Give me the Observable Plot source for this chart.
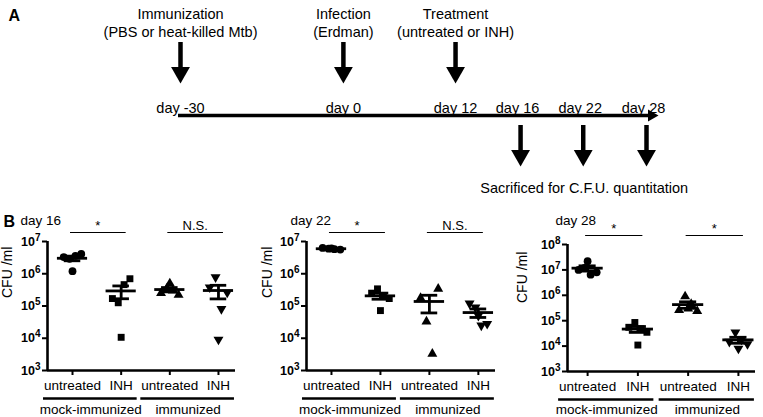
<!DOCTYPE html>
<html>
<head>
<meta charset="utf-8">
<script src="https://cdn.jsdelivr.net/npm/d3@7"></script>
<script src="https://cdn.jsdelivr.net/npm/@observablehq/plot@0.6"></script>
<style>
  body { margin: 0; background: #fff; }
  #fig { position: relative; width: 763px; height: 417px; overflow: hidden; background: #fff; }
  #fig svg { position: absolute; }
</style>
</head>
<body>
<div id="fig"></div>
<script>
// ---------- Panel A: timeline (schematic, not to scale) ----------
const eventDays = [-30, 0, 12];
const eventTitles = ["Immunization", "Infection", "Treatment"];
const eventDetails = ["(PBS or heat-killed Mtb)", "(Erdman)", "(untreated or INH)"];
const timelineDays = [-30, 0, 12, 16, 22, 28];
const timelineSlots = [0, 2.6, 4.39, 5.38, 6.38, 7.39];   // schematic spacing of the days on the drawn timeline
const sacrificeDays = [16, 22, 28];
const sacrificeCaption = "Sacrificed for C.F.U. quantitation";

// ---------- Panel B: CFU /ml ----------
const categories = ["untreated", "INH", "untreated", "INH"];
const groupLabels = ["mock-immunized", "immunized"];
const panelTitles = ["day 16", "day 22", "day 28"];
const sigLabels16 = ["*", "N.S."];
const sigLabels22 = ["*", "N.S."];
const sigLabels28 = ["*", "*"];
const yExponents16 = [3, 4, 5, 6, 7];
const yExponents22 = [3, 4, 5, 6, 7];
const yExponents28 = [3, 4, 5, 6, 7, 8];

const day16MockUntreated = [3.3e6, 4.1e6, 2.9e6, 3.6e6, 1.2e6];
const day16MockINH       = [1.7e5, 7.0e5, 1.26e5, 4.6e5, 1.07e4];
const day16ImmUntreated  = [2.5e5, 2.2e5, 3.5e5, 3.0e5, 5.0e5];
const day16ImmINH        = [3.8e5, 2.6e5, 7.8e5, 8.1e4, 9.1e3];

const day22MockUntreated = [6.3e6, 5.6e6, 6.0e6, 5.8e6, 6.1e6];
const day22MockINH       = [2.5e5, 1.7e5, 3.4e5, 2.0e5, 7.2e4];
const day22ImmUntreated  = [1.76e5, 3.4e5, 3.3e4, 3.3e3];
const day22ImmINH        = [1.2e5, 2.8e4, 9.0e4, 2.5e4, 5.0e4];

const day28MockUntreated = [1.0e7, 8.0e6, 1.2e7, 6.5e6, 2.2e7];
const day28MockINH       = [5.5e4, 3.5e4, 8.5e4, 4.8e4, 1.1e4];
const day28ImmUntreated  = [2.6e5, 2.4e5, 9.0e5, 4.5e5, 3.0e5];
const day28ImmINH        = [1.5e4, 1.2e4, 3.5e4, 1.8e4, 8.0e3];

// ---------- styling ----------
const FONT = '"Liberation Sans", Arial, Helvetica, sans-serif';
const baseStyle = {fontFamily: FONT, background: "transparent", color: "black", overflow: "visible"};
const fig = document.getElementById("fig");
function place(svg, left, top) {
  svg.style.left = left + "px";
  svg.style.top = top + "px";
  fig.appendChild(svg);
}

// ---------- Panel A ----------
const slotOf = day => timelineSlots[timelineDays.indexOf(day)];
const events = eventDays.map((d, i) => ({slot: slotOf(d), title: eventTitles[i], detail: eventDetails[i]}));
const dayMarks = timelineDays.map(d => ({slot: slotOf(d), label: "day " + d}));
const sacrifices = sacrificeDays.map(d => ({slot: slotOf(d)}));
const lastSlot = timelineSlots[timelineSlots.length - 1];
const panelA = Plot.plot({
  width: 763, height: 200,
  marginTop: 0, marginRight: 0, marginBottom: 0, marginLeft: 0,
  style: baseStyle,
  x: {type: "linear", domain: [0, lastSlot], range: [180, 643], axis: null},
  marks: [
    Plot.text(["A"], {frameAnchor: "top-left", dx: 8, dy: 9, fontSize: 16, fontWeight: "bold", text: d => d}),
    Plot.text(events, {x: "slot", text: "title", frameAnchor: "top", dy: 8, fontSize: 14.5}),
    Plot.text(events, {x: "slot", text: "detail", frameAnchor: "top", dy: 26, fontSize: 14.5}),
    Plot.ruleX(events, {x: "slot", insetTop: 42, insetBottom: 132, strokeWidth: 4.5}),
    Plot.dot(events, {x: "slot", frameAnchor: "top", dy: 72, symbol: "triangle", rotate: 180, r: 7, fill: "black"}),
    Plot.text(dayMarks, {x: "slot", text: "label", frameAnchor: "top", dy: 102, fontSize: 14.5}),
    Plot.ruleY([{start: 0, end: lastSlot}], {x1: "start", x2: "end", y: null, dy: 15, insetLeft: -2, insetRight: -6, strokeWidth: 3.5}),
    Plot.dot([lastSlot], {x: d => d, frameAnchor: "top", dy: 115, dx: 8, symbol: "triangle", rotate: 90, r: 4.5, fill: "black"}),
    Plot.ruleX(sacrifices, {x: "slot", dx: 3, insetTop: 125, insetBottom: 48, strokeWidth: 4.5}),
    Plot.dot(sacrifices, {x: "slot", dx: 3, frameAnchor: "top", dy: 155, symbol: "triangle", rotate: 180, r: 7, fill: "black"}),
    Plot.text([sacrificeCaption], {x: () => slotOf(22), text: d => d, dx: 4, frameAnchor: "top", dy: 182, fontSize: 14.5})
  ]
});
place(panelA, 0, 0);

// ---------- Panel B ----------
const jitter = [-0.18, 0.18, -0.06, 0.06, 0];
const markerSpecs = [
  {symbol: "circle", rotate: 0, r: 3.9},
  {symbol: "square", rotate: 0, r: 3.9},
  {symbol: "triangle", rotate: 0, r: 3.7},
  {symbol: "triangle", rotate: 180, r: 3.7}
];

function buildPanel(cfg) {
  const series = cfg.series;
  const pts = [];
  const stats = [];
  series.forEach((vals, c) => {
    vals.forEach((v, i) => pts.push({cat: c, x: c + jitter[i % jitter.length], v}));
    const m = d3.mean(vals);
    const se = d3.deviation(vals) / Math.sqrt(vals.length);
    stats.push({cat: c, mean: m, lo: m - se, hi: m + se});
  });
  const groups = [
    {start: 0, end: 1, label: groupLabels[0], sig: cfg.sig[0]},
    {start: 2, end: 3, label: groupLabels[1], sig: cfg.sig[1]}
  ];
  const ticks = cfg.exps.map(e => Math.pow(10, e));
  const yMin = ticks[0], yMax = ticks[ticks.length - 1];
  const xMin = cfg.xDomain[0];
  const meanHalf = 0.31, capHalf = 0.17;

  const marks = [];
  markerSpecs.forEach((spec, c) => {
    marks.push(Plot.dot(pts.filter(d => d.cat === c), {
      x: "x", y: "v", symbol: spec.symbol, rotate: spec.rotate, r: spec.r, fill: "black", stroke: "none"
    }));
  });
  marks.push(
    Plot.ruleY(stats, {y: "mean", x1: d => d.cat - meanHalf, x2: d => d.cat + meanHalf, strokeWidth: 2.8}),
    Plot.ruleX(stats, {x: "cat", y1: "lo", y2: "hi", strokeWidth: 2.8}),
    Plot.ruleY(stats, {y: "hi", x1: d => d.cat - capHalf, x2: d => d.cat + capHalf, strokeWidth: 2.8}),
    Plot.ruleY(stats, {y: "lo", x1: d => d.cat - capHalf, x2: d => d.cat + capHalf, strokeWidth: 2.8})
  );
  marks.push(
    Plot.axisY(ticks, {tickSize: 5, tickPadding: 2, strokeWidth: 2, fontSize: 12.5, fontWeight: "bold",
      tickFormat: d => "10^" + Math.round(Math.log10(d)), label: null}),
    Plot.axisX([0, 1, 2, 3], {tickSize: 5, tickPadding: 5, strokeWidth: 2, fontSize: 13.5,
      tickFormat: i => categories[i], label: null}),
    Plot.ruleX([xMin], {strokeWidth: 2.6}),
    Plot.ruleY([yMin], {strokeWidth: 2.6})
  );
  marks.push(Plot.text(["CFU /ml"], {text: d => d, frameAnchor: "left", dx: cfg.labelDx, dy: cfg.labelDy, rotate: -90, fontSize: 14}));
  marks.push(
    Plot.ruleY(groups, {y: () => yMin, x1: "start", x2: "end", dy: 28, insetLeft: -29, insetRight: -16, strokeWidth: 2.6}),
    Plot.text(groups, {y: () => yMin, x: d => (d.start + d.end) / 2, text: "label", dy: cfg.groupDy, dx: -6, fontSize: 13.5})
  );
  marks.push(
    Plot.ruleY(groups, {y: () => yMax, x1: "start", x2: "end", dy: -9, insetLeft: -2, insetRight: -5, strokeWidth: 1.2}),
    Plot.text(groups, {y: () => yMax, x: d => (d.start + d.end) / 2, text: "sig", dy: -16, dx: 1, fontSize: 13})
  );
  marks.push(Plot.text([cfg.title], {text: d => d, frameAnchor: "top-left", textAnchor: "start", dx: cfg.titleDx, dy: cfg.titleDy, fontSize: 13.5}));
  if (cfg.letter) {
    marks.push(Plot.text([cfg.letter], {text: d => d, frameAnchor: "top-left", textAnchor: "start", dx: cfg.letterDx, dy: cfg.titleDy, fontSize: 16, fontWeight: "bold"}));
  }

  const svg = Plot.plot({
    width: cfg.width, height: 217,
    marginLeft: cfg.marginLeft, marginRight: cfg.marginRight,
    marginTop: cfg.marginTop, marginBottom: cfg.marginBottom,
    style: baseStyle,
    x: {type: "linear", domain: cfg.xDomain},
    y: {type: "log", domain: [yMin, yMax]},
    marks
  });
  d3.select(svg).selectAll("text").each(function () {
    const m = /^10\^(\d+)$/.exec(this.textContent);
    if (!m) return;
    const t = d3.select(this);
    t.text(null);
    t.append("tspan").text("10");
    t.append("tspan").attr("dy", "-0.5em").attr("font-size", "0.8em").text(m[1]);
  });
  place(svg, cfg.left, 200);
}

buildPanel({
  series: [day16MockUntreated, day16MockINH, day16ImmUntreated, day16ImmINH],
  sig: sigLabels16, exps: yExponents16, title: panelTitles[0], letter: "B",
  left: 0, width: 255, marginLeft: 47, marginRight: 20, marginTop: 41, marginBottom: 47,
  xDomain: [-0.514, 3.35], labelDx: -40, labelDy: -8, titleDx: -27, titleDy: -26, letterDx: -44, groupDy: 39
});
buildPanel({
  series: [day22MockUntreated, day22MockINH, day22ImmUntreated, day22ImmINH],
  sig: sigLabels22, exps: yExponents22, title: panelTitles[1],
  left: 255, width: 250, marginLeft: 51, marginRight: 10, marginTop: 41, marginBottom: 47,
  xDomain: [-0.51, 3.35], labelDx: -39, labelDy: -8, titleDx: -16, titleDy: -26, groupDy: 39
});
buildPanel({
  series: [day28MockUntreated, day28MockINH, day28ImmUntreated, day28ImmINH],
  sig: sigLabels28, exps: yExponents28, title: panelTitles[2],
  left: 505, width: 258, marginLeft: 62, marginRight: 8, marginTop: 44, marginBottom: 46,
  xDomain: [-0.4, 3.34], labelDx: -45, labelDy: -5, titleDx: -12, titleDy: -29, groupDy: 38
});
</script>
</body>
</html>
